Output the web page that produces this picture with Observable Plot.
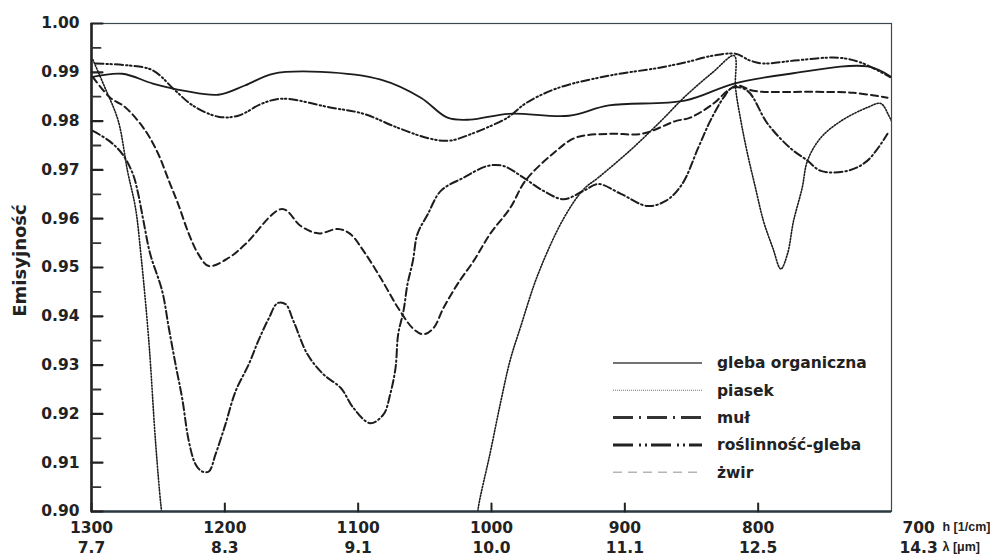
<!DOCTYPE html>
<html><head><meta charset="utf-8">
<script src="https://cdn.jsdelivr.net/npm/d3@7"></script>
<script src="https://cdn.jsdelivr.net/npm/@observablehq/plot@0.6"></script>
<style>
body{margin:0;background:#fff;}
#chart{width:990px;height:558px;}
</style></head><body><div id="chart"></div>
<script>
// ---- axis ticks & labels ----
const hTicks = [1300, 1200, 1100, 1000, 900, 800, 700];
const hLabels = ["1300", "1200", "1100", "1000", "900", "800", "700"];
const lambdaLabels = ["7.7", "8.3", "9.1", "10.0", "11.1", "12.5", "14.3"];
const yTicksMajor = [0.90, 0.91, 0.92, 0.93, 0.94, 0.95, 0.96, 0.97, 0.98, 0.99, 1.00];
const yLabels = ["0.90", "0.91", "0.92", "0.93", "0.94", "0.95", "0.96", "0.97", "0.98", "0.99", "1.00"];
const yTicksMinor = [0.905, 0.915, 0.925, 0.935, 0.945, 0.955, 0.965, 0.975, 0.985, 0.995];
const yTitle = "Emisyjność";
const hUnit = "h [1/cm]";
const lambdaUnit = "λ [μm]";
const seriesNames = ["gleba organiczna", "piasek", "muł", "roślinność-gleba", "żwir"];

// ---- series (h [1/cm], emissivity) ----
const glebaH = [1300, 1277, 1254, 1230, 1205, 1185, 1164, 1128, 1083, 1053, 1033, 1016, 987, 942, 912, 855, 818, 776, 718, 700];
const glebaE = [0.9890, 0.9897, 0.9877, 0.9862, 0.9854, 0.9873, 0.9897, 0.9901, 0.9885, 0.9848, 0.9807, 0.9803, 0.9815, 0.9811, 0.9832, 0.9842, 0.9877, 0.9897, 0.9912, 0.9890];

const piasekH = [1299, 1290, 1280, 1273, 1267, 1263, 1257, 1252, 1248, 1246, null, 1011, 1010, 1001, 993, 986, 978, 965, 946, 931, 920, 896, 873, 855, 834, 818, 817, 813, 808, 802, 796, 789, 783, 778, 773.5, 767, 763, 753, 738, 718, 708, 702, 700];
const piasekE = [0.9926, 0.9869, 0.9801, 0.9698, 0.9622, 0.9528, 0.9349, 0.9144, 0.9014, 0.8970, null, 0.8970, 0.9006, 0.9120, 0.9226, 0.9310, 0.9380, 0.9487, 0.9600, 0.9660, 0.9684, 0.9740, 0.9800, 0.9850, 0.9900, 0.9934, 0.9869, 0.9801, 0.9733, 0.9663, 0.9595, 0.9540, 0.9497, 0.9528, 0.9595, 0.9663, 0.9719, 0.9766, 0.9800, 0.9828, 0.9836, 0.9811, 0.9800];

const mulH = [1299, 1287, 1277, 1269, 1265, 1261, 1256, 1247, 1242, 1237, 1232, 1227, 1222, 1217, 1212, 1207, 1199.5, 1192, 1182, 1175, 1167, 1160.5, 1154.5, 1148.5, 1138, 1126, 1113, 1103.5, 1091, 1081, 1076, 1072, 1070, 1066, 1063, 1059, 1055.5, 1048, 1038, 1021, 1003, 991, 976, 961, 946, 931, 920, 903, 883, 869, 857, 845, 836, 826, 819, 808, 793, 776, 763, 753, 733, 718, 703];
const mulE = [0.9780, 0.9760, 0.9733, 0.9692, 0.9651, 0.9595, 0.9528, 0.9452, 0.9376, 0.9302, 0.9232, 0.9144, 0.9097, 0.9082, 0.9082, 0.9117, 0.9179, 0.9246, 0.9302, 0.9349, 0.9396, 0.9427, 0.9425, 0.9390, 0.9322, 0.9281, 0.9253, 0.9212, 0.9181, 0.9199, 0.9240, 0.9294, 0.9363, 0.9411, 0.9466, 0.9513, 0.9569, 0.9608, 0.9657, 0.9684, 0.9708, 0.9708, 0.9684, 0.9657, 0.9640, 0.9657, 0.9671, 0.9651, 0.9626, 0.9637, 0.9671, 0.9745, 0.9800, 0.9848, 0.9869, 0.9862, 0.9795, 0.9745, 0.9719, 0.9698, 0.9698, 0.9719, 0.9774];

const roslH = [1297, 1272, 1254, 1237, 1224, 1205, 1190, 1172, 1157, 1121, 1096, 1070, 1046, 1031, 1013, 1004, 988, 974, 950, 912, 875, 855, 834, 817, 806, 796, 773, 740, 723, 701];
const roslE = [0.9918, 0.9914, 0.9904, 0.9862, 0.9832, 0.9809, 0.9811, 0.9836, 0.9846, 0.9828, 0.9815, 0.9786, 0.9764, 0.9760, 0.9776, 0.9786, 0.9807, 0.9837, 0.9868, 0.9893, 0.9909, 0.9920, 0.9934, 0.9938, 0.9924, 0.9918, 0.9924, 0.9930, 0.9920, 0.9890];

const zwirH = [1299, 1286, 1274.5, 1259.5, 1250, 1242, 1235, 1227, 1220, 1212, 1197, 1184.5, 1157, 1143, 1130, 1115, 1106, 1096, 1083, 1070, 1058.5, 1051, 1043.5, 1036, 1025.5, 1013.5, 1001, 986, 974.5, 954, 937, 912, 887, 862, 851, 833.5, 823, 815.5, 803.5, 758.5, 728.5, 703];
const zwirE = [0.9890, 0.9848, 0.9828, 0.9780, 0.9733, 0.9678, 0.9630, 0.9569, 0.9528, 0.9503, 0.9520, 0.9548, 0.9620, 0.9585, 0.9570, 0.9579, 0.9569, 0.9534, 0.9478, 0.9417, 0.9374, 0.9363, 0.9376, 0.9417, 0.9466, 0.9513, 0.9569, 0.9622, 0.9678, 0.9733, 0.9766, 0.9774, 0.9774, 0.9800, 0.9807, 0.9836, 0.9862, 0.9873, 0.9862, 0.9860, 0.9858, 0.9848];

const toRows = (hs, es) => hs.map((h, i) => ({h, e: es[i]}));
const seriesData = [toRows(glebaH, glebaE), toRows(piasekH, piasekE), toRows(mulH, mulE), toRows(roslH, roslE), toRows(zwirH, zwirE)];

// ---- styles ----
const ink = "#1c1c1c";
const lineStyles = [
  {strokeWidth: 1.8, strokeDasharray: null},
  {strokeWidth: 1.6, strokeDasharray: "1.3 1.7"},
  {strokeWidth: 2, strokeDasharray: "8 3 1.5 3"},
  {strokeWidth: 2, strokeDasharray: "8 3 1.5 2.5 1.5 3"},
  {strokeWidth: 2, strokeDasharray: "7 4"}
];
const legendStyles = [
  {stroke: "#444", width: 1.6, dash: null},
  {stroke: "#777", width: 1.1, dash: "1 1"},
  {stroke: "#333", width: 3, dash: "20 6 2 6"},
  {stroke: "#222", width: 3, dash: "20 6 2 4 2 4"},
  {stroke: "#b5b5b5", width: 1.6, dash: "9 6"}
];
const tickShape = {draw(ctx, l) { ctx.moveTo(0, 0); ctx.lineTo(0, -l); }};
const hLabelMap = new Map(hTicks.map((h, i) => [h, hLabels[i]]));
const lamMap = new Map(hTicks.map((h, i) => [h, lambdaLabels[i]]));
const yLabelMap = new Map(yTicksMajor.map((v, i) => [v, yLabels[i]]));
const innerTicks = hTicks.slice(0, 6);
const unitFont = {fontFamily: "Liberation Sans", fontSize: 12.5, fontWeight: "bold"};

const chart = Plot.plot({
  width: 990, height: 558,
  marginLeft: 91, marginRight: 99, marginTop: 23, marginBottom: 47,
  style: {fontFamily: "DejaVu Sans", fontSize: "15.5px", fontWeight: "bold", color: "#222", background: "#fff"},
  x: {domain: [1300, 700]},
  y: {domain: [0.90, 1.00]},
  marks: [
    Plot.frame({stroke: "#3a4a50", strokeWidth: 1.2}),
    ...seriesData.map((d, i) => Plot.line(d, {
      x: "h", y: "e", stroke: ink, curve: "catmull-rom", clip: true,
      strokeWidth: lineStyles[i].strokeWidth, strokeDasharray: lineStyles[i].strokeDasharray
    })),
    Plot.ruleX([1300], {stroke: "#222", strokeWidth: 2.6}),
    Plot.ruleY([0.90], {stroke: "#2a3a40", strokeWidth: 2.6}),
    Plot.vector(yTicksMajor, {x: () => 1300, y: d => d, length: 11, rotate: 90, anchor: "start", shape: tickShape, stroke: "#222", strokeWidth: 2.2}),
    Plot.vector(yTicksMinor, {x: () => 1300, y: d => d, length: 9, rotate: 90, anchor: "start", shape: tickShape, stroke: "#333", strokeWidth: 1.8}),
    Plot.vector(innerTicks, {x: d => d, y: () => 0.90, length: 8, rotate: 0, anchor: "start", shape: tickShape, stroke: "#222", strokeWidth: 2}),
    Plot.axisY({ticks: yTicksMajor, tickSize: 0, tickPadding: 12, tickFormat: d => yLabelMap.get(d), label: null}),
    Plot.axisX({ticks: innerTicks, tickSize: 0, tickPadding: 10, tickFormat: d => hLabelMap.get(d), label: null}),
    Plot.axisX({ticks: innerTicks, tickSize: 0, tickPadding: 30, tickFormat: d => lamMap.get(d), label: null}),
    Plot.text([hLabels[6]], {x: () => 700, frameAnchor: "bottom", text: d => d, textAnchor: "start", lineAnchor: "top", dx: 11, dy: 10}),
    Plot.text([lambdaLabels[6]], {x: () => 700, frameAnchor: "bottom", text: d => d, textAnchor: "start", lineAnchor: "top", dx: 8, dy: 30}),
    Plot.text([hUnit], {x: () => 700, frameAnchor: "bottom", text: d => d, textAnchor: "start", lineAnchor: "top", dx: 51, dy: 11, ...unitFont}),
    Plot.text([lambdaUnit], {x: () => 700, frameAnchor: "bottom", text: d => d, textAnchor: "start", lineAnchor: "top", dx: 51, dy: 31, ...unitFont}),
    Plot.text([yTitle], {frameAnchor: "left", text: d => d, rotate: -90, textAnchor: "middle", dx: -71, dy: -7, fontSize: 18})
  ]
});
document.getElementById("chart").appendChild(chart);

// ---- legend (inside plot area, lower right) ----
const svg = d3.select(chart.tagName.toLowerCase() === "svg" ? chart : chart.querySelector("svg"));
const lg = svg.append("g").attr("font-family", "DejaVu Sans").attr("font-size", 15.5).attr("font-weight", "bold")
  .attr("fill", "#222").attr("text-anchor", "start");
const legendX0 = 613, legendX1 = 702, legendTextX = 717, legendY0 = 363, legendStep = 27.3;
seriesNames.forEach((name, i) => {
  const y = legendY0 + i * legendStep;
  const s = legendStyles[i];
  lg.append("line").attr("x1", legendX0).attr("x2", legendX1).attr("y1", y).attr("y2", y)
    .attr("stroke", s.stroke).attr("stroke-width", s.width).attr("stroke-dasharray", s.dash);
  lg.append("text").attr("x", legendTextX).attr("y", y).attr("dy", "0.35em").attr("text-anchor", "start").text(name);
});
</script></body></html>
